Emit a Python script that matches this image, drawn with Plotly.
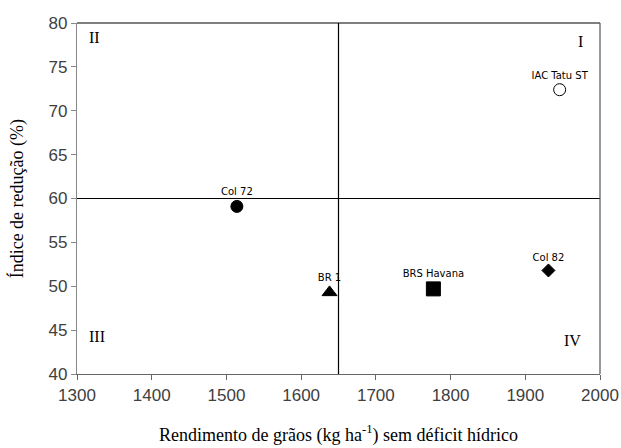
import plotly.graph_objects as go

cultivars = ["Col 72", "IAC Tatu ST", "BR 1", "BRS Havana", "Col 82"]
rendimento = [1514, 1946, 1638, 1777, 1931]
indice = [59.1, 72.4, 49.3, 49.7, 51.8]
symbols = ["circle", "circle-open", "triangle-up", "square", "diamond"]
sizes = [12, 12, 13, 14, 10]

quadrant_labels = ["I", "II", "III", "IV"]
quadrant_x = [1974, 1324, 1327, 1963]
quadrant_y = [77.9, 78.4, 44.3, 43.8]

x_ref_line = 1650
y_ref_line = 60

x_title = "Rendimento de grãos (kg ha<sup>-1</sup>) sem déficit hídrico"
y_title = "Índice de redução (%)"

fig = go.Figure()
for name, x, y, s, sz in zip(cultivars, rendimento, indice, symbols, sizes):
    fig.add_trace(go.Scatter(
        x=[x], y=[y], mode="markers+text", text=[name],
        textposition="top center",
        textfont=dict(family="DejaVu Sans", size=10, color="black"),
        marker=dict(symbol=s, size=sz, color="black",
                    line=dict(color="black", width=1)),
        showlegend=False, cliponaxis=False,
    ))

fig.add_shape(type="line", xref="x", yref="paper", x0=x_ref_line, x1=x_ref_line,
              y0=0, y1=1, line=dict(color="black", width=1.2))
fig.add_shape(type="line", xref="paper", yref="y", x0=0, x1=1,
              y0=y_ref_line, y1=y_ref_line, line=dict(color="black", width=1.2))
fig.add_shape(type="line", xref="paper", yref="paper", x0=0, x1=1, y0=1, y1=1,
              line=dict(color="black", width=1.2))
fig.add_shape(type="line", xref="paper", yref="paper", x0=1, x1=1, y0=0, y1=1,
              line=dict(color="#555555", width=1.2))

for lab, qx, qy in zip(quadrant_labels, quadrant_x, quadrant_y):
    fig.add_annotation(x=qx, y=qy, text=lab, showarrow=False,
                       font=dict(family="Liberation Serif", size=16, color="black"))

fig.add_annotation(x=0.5, y=-0.171, xref="paper", yref="paper", text=x_title,
                   showarrow=False, xanchor="center", yanchor="middle",
                   font=dict(family="Liberation Serif", size=18, color="black"))
fig.add_annotation(x=-0.115, y=0.5, xref="paper", yref="paper", text=y_title,
                   showarrow=False, xanchor="center", yanchor="middle", textangle=-90,
                   font=dict(family="Liberation Serif", size=18, color="black"))

fig.update_layout(
    width=621, height=448,
    margin=dict(l=77, r=21, t=23, b=74),
    plot_bgcolor="white", paper_bgcolor="white",
    xaxis=dict(
        range=[1300, 2000], dtick=100, tick0=1300, automargin=False,
        showgrid=False, zeroline=False,
        showline=True, linecolor="#666666", linewidth=1.2,
        ticks="outside", ticklen=5, tickcolor="#666666",
        tickfont=dict(family="Liberation Sans", size=17, color="#404040"),
    ),
    yaxis=dict(
        range=[40, 80], dtick=5, automargin=False,
        showgrid=False, zeroline=False,
        showline=True, linecolor="#888888", linewidth=1.2,
        ticks="outside", ticklen=5, tickcolor="#888888",
        tickfont=dict(family="Liberation Sans", size=17, color="#404040"),
    ),
)

fig.write_html("out.html")
